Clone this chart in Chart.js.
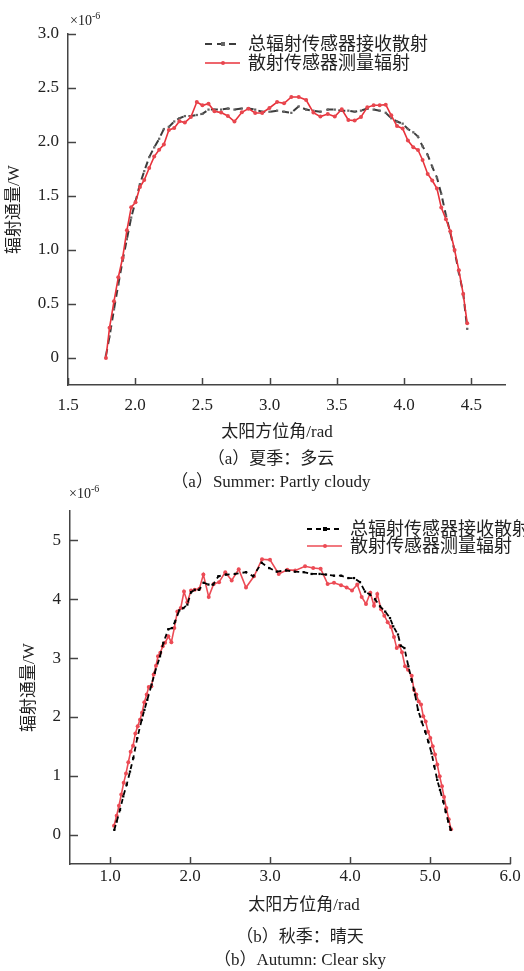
<!DOCTYPE html>
<html>
<head>
<meta charset="utf-8">
<script src="https://cdn.jsdelivr.net/npm/chart.js@4"></script>
<style>
  body { margin: 0; width: 524px; height: 971px; background: #fff; position: relative; overflow: hidden;
         font-family: "Liberation Serif", "Noto Sans CJK SC", serif; color: #222; }
  canvas { position: absolute; left: 0; }
  .txt { position: absolute; font-size: 17px; line-height: 20px; white-space: nowrap; }
  .ctr { transform: translateX(-50%); }
  .mag { font-size: 14px; }
  .mag sup { font-size: 10px; }
</style>
</head>
<body>
<canvas id="summerChart" width="524" height="445" style="top:0"></canvas>
<canvas id="autumnChart" width="524" height="445" style="top:480px"></canvas>

<div class="txt mag" style="left:70px;top:6px">×10<sup>-6</sup></div>
<div class="txt ctr" style="left:277px;top:422px">太阳方位角/rad</div>
<div class="txt ctr" style="left:271px;top:449px">（a）夏季：多云</div>
<div class="txt ctr" style="left:271px;top:472px">（a）Summer: Partly cloudy</div>

<div class="txt mag" style="left:69px;top:479px">×10<sup>-6</sup></div>
<div class="txt ctr" style="left:304px;top:895px">太阳方位角/rad</div>
<div class="txt ctr" style="left:300px;top:927px">（b）秋季：晴天</div>
<div class="txt ctr" style="left:300px;top:950px">（b）Autumn: Clear sky</div>

<script>
// (a) summer, partly cloudy - both sensors sampled at the same azimuths
const summerAngle = [1.782,1.809,1.842,1.874,1.906,1.938,1.970,2.002,2.035,2.067,2.104,2.141,2.178,2.213,2.250,2.290,2.329,2.369,2.414,2.458,2.500,2.545,2.589,2.639,2.689,2.738,2.793,2.842,2.892,2.944,2.998,3.055,3.107,3.161,3.216,3.271,3.325,3.377,3.432,3.484,3.536,3.585,3.632,3.679,3.726,3.773,3.818,3.863,3.904,3.947,3.989,4.028,4.068,4.103,4.137,4.175,4.209,4.244,4.276,4.311,4.343,4.375,4.407,4.439,4.469];
const summerTotal = [0.02,0.20,0.45,0.68,0.90,1.10,1.30,1.45,1.61,1.73,1.86,1.95,2.03,2.12,2.14,2.19,2.22,2.24,2.24,2.25,2.26,2.30,2.30,2.30,2.31,2.30,2.31,2.31,2.30,2.28,2.28,2.29,2.28,2.27,2.33,2.30,2.29,2.28,2.30,2.30,2.29,2.29,2.28,2.29,2.31,2.30,2.29,2.27,2.22,2.19,2.17,2.12,2.09,2.05,1.96,1.88,1.77,1.67,1.52,1.32,1.16,0.99,0.79,0.60,0.27];
const summerScatter = [0,0.281,0.525,0.747,0.926,1.182,1.395,1.442,1.583,1.648,1.759,1.865,1.929,1.976,2.111,2.130,2.192,2.180,2.231,2.370,2.340,2.355,2.284,2.272,2.241,2.189,2.275,2.309,2.269,2.269,2.315,2.370,2.358,2.417,2.417,2.389,2.272,2.235,2.259,2.235,2.303,2.204,2.198,2.232,2.321,2.340,2.340,2.346,2.247,2.148,2.124,2.013,1.951,1.926,1.833,1.704,1.643,1.569,1.393,1.284,1.173,1.000,0.812,0.593,0.321];
const summerXTicks = [1.5,2.0,2.5,3.0,3.5,4.0,4.5];
const summerYTicks = [0,0.5,1.0,1.5,2.0,2.5,3.0];

// (b) autumn, clear sky
const autumnTotalAngle = [1.054,1.083,1.125,1.166,1.209,1.25,1.291,1.341,1.396,1.43,1.466,1.52,1.56,1.625,1.667,1.729,1.775,1.813,1.866,1.917,1.967,2.013,2.059,2.113,2.17,2.23,2.29,2.354,2.45,2.563,2.70,2.79,2.896,2.99,3.084,3.2,3.31,3.42,3.52,3.62,3.70,3.80,3.89,3.98,4.05,4.125,4.188,4.25,4.313,4.375,4.44,4.50,4.54,4.60,4.634,4.68,4.73,4.77,4.813,4.85,4.896,4.94,4.979,5.02,5.054,5.09,5.125,5.166,5.196,5.229,5.259];
const autumnTotal = [0.08,0.22,0.42,0.65,0.85,1.07,1.30,1.64,1.95,2.12,2.29,2.55,2.75,3.03,3.26,3.49,3.51,3.62,3.81,3.85,3.91,4.12,4.16,4.16,4.28,4.25,4.25,4.39,4.42,4.43,4.46,4.39,4.62,4.53,4.47,4.49,4.47,4.46,4.43,4.43,4.42,4.40,4.40,4.36,4.36,4.29,4.13,4.08,4.00,3.88,3.79,3.68,3.54,3.40,3.21,3.17,2.86,2.63,2.38,2.12,1.92,1.75,1.58,1.38,1.16,0.93,0.76,0.56,0.39,0.22,0.08];
const autumnScatterAngle = [1.05,1.083,1.112,1.141,1.171,1.20,1.229,1.258,1.288,1.317,1.346,1.375,1.40,1.429,1.459,1.484,1.517,1.546,1.575,1.60,1.629,1.659,1.688,1.729,1.767,1.804,1.842,1.884,1.925,1.967,2.013,2.059,2.117,2.167,2.234,2.296,2.363,2.441,2.521,2.609,2.70,2.80,2.90,3.0,3.109,3.216,3.316,3.438,3.54,3.633,3.72,3.80,3.888,3.958,4.025,4.091,4.146,4.20,4.254,4.30,4.341,4.388,4.429,4.471,4.513,4.55,4.584,4.621,4.65,4.688,4.725,4.771,4.80,4.829,4.859,4.888,4.916,4.946,4.975,5.004,5.034,5.063,5.091,5.121,5.15,5.175,5.204,5.234,5.263];
const autumnScatter = [0.15,0.32,0.49,0.68,0.88,1.04,1.23,1.41,1.51,1.72,1.84,1.95,2.07,2.25,2.38,2.51,2.52,2.72,2.87,3.03,3.09,3.20,3.26,3.37,3.27,3.51,3.79,3.85,4.13,3.95,4.15,4.16,4.18,4.42,4.04,4.26,4.29,4.46,4.32,4.51,4.20,4.39,4.68,4.67,4.43,4.50,4.49,4.56,4.53,4.52,4.26,4.28,4.24,4.20,4.15,4.25,4.04,3.92,4.11,3.89,4.09,3.83,3.72,3.61,3.53,3.36,3.17,3.21,3.10,2.86,2.80,2.70,2.46,2.38,2.26,2.21,2.01,1.92,1.75,1.64,1.50,1.36,1.19,0.99,0.82,0.64,0.45,0.26,0.09];
const autumnXTicks = [1.0,2.0,3.0,4.0,5.0,6.0];
const autumnYTicks = [0,1,2,3,4,5];

const seriesNames = ['总辐射传感器接收散射', '散射传感器测量辐射'];

Chart.defaults.font.family = '"Liberation Serif", "Noto Sans CJK SC", serif';
Chart.defaults.color = '#222';

const pairs = (xs, ys) => xs.map((x, i) => ({ x: x, y: ys[i] }));

// ticks point into the plot area, like the original figure
const inwardTicks = {
    id: 'inwardTicks',
    afterDraw(chart) {
        const { ctx, chartArea, scales } = chart;
        ctx.save();
        ctx.strokeStyle = '#444';
        ctx.lineWidth = 1.5;
        scales.x.ticks.forEach(t => {
            const px = Math.round(scales.x.getPixelForValue(t.value)) + 0.5;
            ctx.beginPath();
            ctx.moveTo(px, chartArea.bottom);
            ctx.lineTo(px, chartArea.bottom - 7);
            ctx.stroke();
        });
        scales.y.ticks.forEach(t => {
            const py = Math.round(scales.y.getPixelForValue(t.value)) + 0.5;
            ctx.beginPath();
            ctx.moveTo(chartArea.left, py);
            ctx.lineTo(chartArea.left + 8, py);
            ctx.stroke();
        });
        ctx.restore();
    }
};

// legend drawn in the corner, using each dataset's own styling
const cornerLegend = {
    id: 'cornerLegend',
    afterDraw(chart, args, opts) {
        const ctx = chart.ctx;
        ctx.save();
        chart.data.datasets.forEach((ds, i) => {
            const y = opts.y + i * opts.gap;
            ctx.setLineDash(ds.borderDash || []);
            ctx.strokeStyle = ds.borderColor;
            ctx.lineWidth = ds.borderWidth;
            ctx.beginPath();
            ctx.moveTo(opts.x, y);
            ctx.lineTo(opts.x + 35, y);
            ctx.stroke();
            ctx.setLineDash([]);
            ctx.fillStyle = ds.pointBackgroundColor;
            if (ds.pointStyle === 'rect') {
                ctx.fillRect(opts.x + 16, y - 2, 4, 4);
            } else {
                ctx.beginPath();
                ctx.arc(opts.x + 18, y, 2, 0, Math.PI * 2);
                ctx.fill();
            }
            ctx.fillStyle = '#222';
            ctx.font = '18px "Liberation Serif", "Noto Sans CJK SC", serif';
            ctx.textBaseline = 'middle';
            ctx.fillText(ds.label, opts.x + 43, y + 1);
        });
        ctx.restore();
    }
};

function makeChart(id, cfg) {
    return new Chart(document.getElementById(id), {
        type: 'scatter',
        data: { datasets: cfg.datasets },
        options: {
            responsive: false,
            animation: false,
            layout: { padding: { top: cfg.padTop, right: cfg.padRight, left: 0, bottom: 0 } },
            plugins: {
                legend: { display: false },
                tooltip: { enabled: false },
                cornerLegend: cfg.legend
            },
            scales: {
                x: {
                    type: 'linear',
                    min: cfg.xMin, max: cfg.xMax,
                    grid: { display: false, drawTicks: false },
                    border: { display: true, color: '#444', width: 1.5 },
                    afterBuildTicks: s => { s.ticks = cfg.xTicks.map(v => ({ value: v })); },
                    afterFit: s => { s.height = cfg.xHeight; },
                    ticks: { padding: cfg.xPad, font: { size: 17 }, callback: v => v.toFixed(1) }
                },
                y: {
                    min: cfg.yMin, max: cfg.yMax,
                    grid: { display: false, drawTicks: false },
                    border: { display: true, color: '#444', width: 1.5 },
                    afterBuildTicks: s => { s.ticks = cfg.yTicks.map(v => ({ value: v })); },
                    afterFit: s => { s.width = cfg.yWidth; },
                    ticks: { padding: 9, font: { size: 17 }, callback: cfg.yFormat },
                    title: { display: true, text: '辐射通量/W', font: { size: 17 }, padding: { top: cfg.yTitlePad, bottom: 0 } }
                }
            }
        },
        plugins: [inwardTicks, cornerLegend]
    });
}

makeChart('summerChart', {
    datasets: [
        {
            label: seriesNames[0], data: pairs(summerAngle, summerTotal), showLine: true, order: 1,
            borderColor: '#3c3c3c', borderWidth: 2, borderDash: [7, 5],
            pointStyle: 'rect', pointRadius: 1.6, pointBackgroundColor: '#666', pointBorderWidth: 0
        },
        {
            label: seriesNames[1], data: pairs(summerAngle, summerScatter), showLine: true, order: 0,
            borderColor: '#e8323b', borderWidth: 1.6,
            pointStyle: 'circle', pointRadius: 2, pointBackgroundColor: '#e8464e', pointBorderWidth: 0
        }
    ],
    padTop: 34, padRight: 19, xMin: 1.5, xMax: 4.75, yMin: -0.25, yMax: 3.0,
    xTicks: summerXTicks, yTicks: summerYTicks, xHeight: 60, xPad: 10, yWidth: 68, yTitlePad: 4,
    yFormat: v => (v === 0 ? '0' : v.toFixed(1)),
    legend: { x: 205, y: 44, gap: 19 }
});

makeChart('autumnChart', {
    datasets: [
        {
            label: seriesNames[0], data: pairs(autumnTotalAngle, autumnTotal), showLine: true, order: 0,
            borderColor: '#000', borderWidth: 1.8, borderDash: [5, 4],
            pointStyle: 'rect', pointRadius: 1.6, pointBackgroundColor: '#000', pointBorderWidth: 0
        },
        {
            label: seriesNames[1], data: pairs(autumnScatterAngle, autumnScatter), showLine: true, order: 1,
            borderColor: '#ec4b55', borderWidth: 1.6,
            pointStyle: 'circle', pointRadius: 2, pointBackgroundColor: '#ec4b55', pointBorderWidth: 0
        }
    ],
    padTop: 31, padRight: 14, xMin: 0.5, xMax: 6.0, yMin: -0.5, yMax: 5.5,
    xTicks: autumnXTicks, yTicks: autumnYTicks, xHeight: 61, xPad: 2, yWidth: 70, yTitlePad: 19,
    yFormat: v => String(v),
    legend: { x: 307, y: 49, gap: 17 }
});
</script>
</body>
</html>
